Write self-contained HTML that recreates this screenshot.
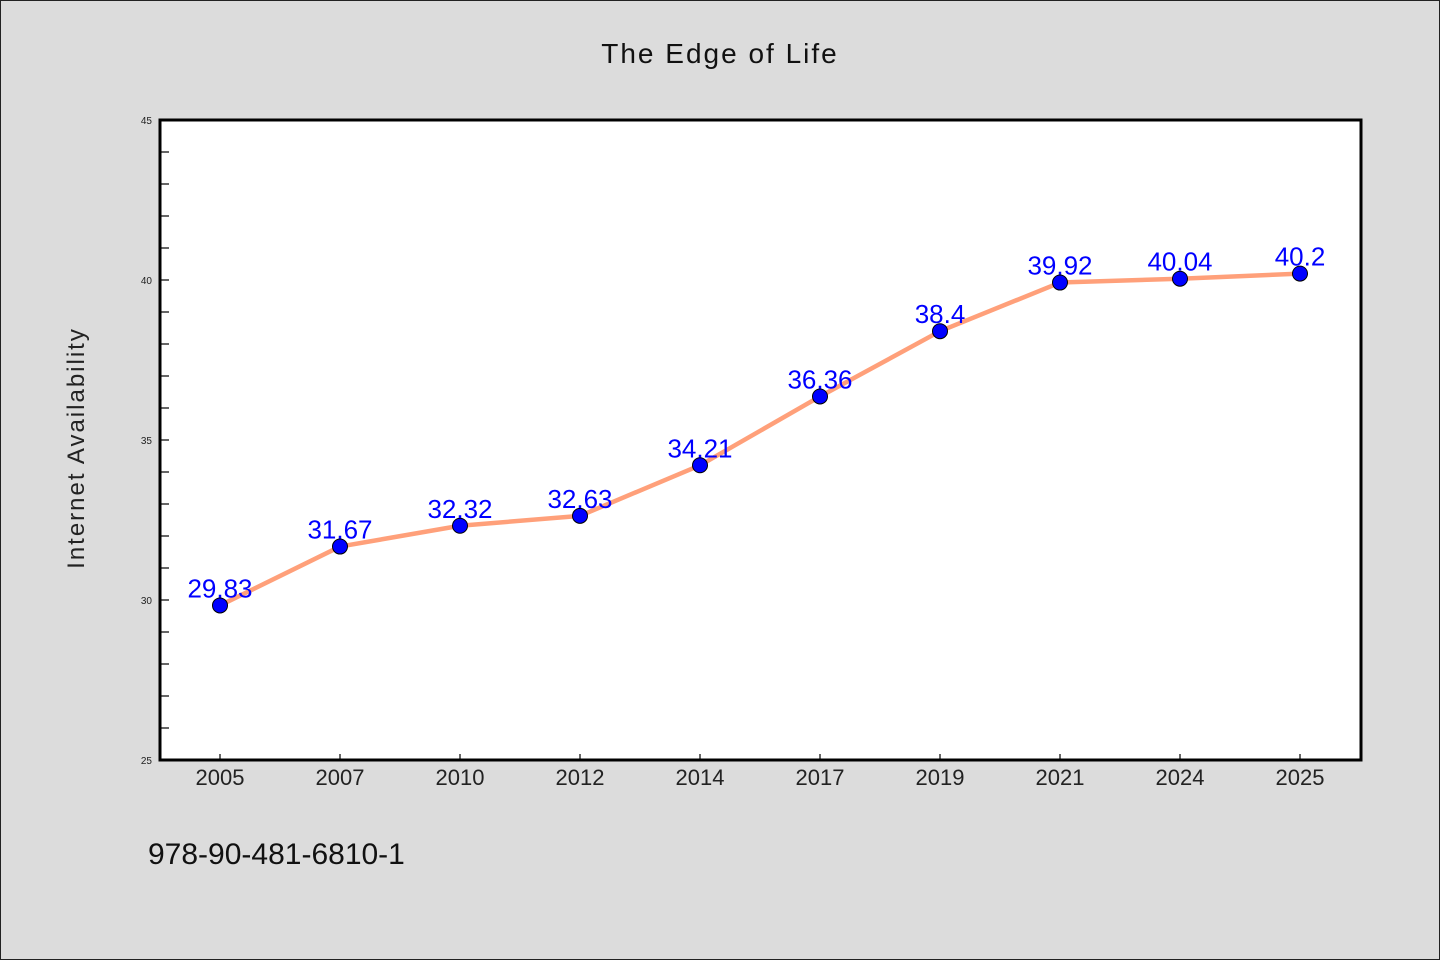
<!DOCTYPE html>
<html><head><meta charset="utf-8"><style>
html,body{margin:0;padding:0;background:#dcdcdc;}
svg{display:block;font-family:"WenQuanYi Zen Hei","Liberation Sans",sans-serif;}
</style></head><body>
<svg id="chart" width="1440" height="960">
<rect x="0.5" y="0.5" width="1439" height="959" fill="#dcdcdc" stroke="#222"/>
<text x="720" y="63" text-anchor="middle" font-size="28" fill="#111" letter-spacing="2">The Edge of Life</text>
<rect x="160" y="120" width="1200" height="640" fill="#fff"/>
<g id="axes"></g>
<g id="marks"></g>
<rect x="160" y="120" width="1201" height="640" fill="none" stroke="#000" stroke-width="3"/>
<text transform="translate(84,448) rotate(-90)" text-anchor="middle" font-size="24" fill="#222" letter-spacing="2">Internet Availability</text>
<text x="148" y="864" font-size="30" fill="#111">978-90-481-6810-1</text>
</svg>
<script>
const categories=["2005","2007","2010","2012","2014","2017","2019","2021","2024","2025"];
const values=[29.83,31.67,32.32,32.63,34.21,36.36,38.4,39.92,40.04,40.2];
const valueLabels=["29.83","31.67","32.32","32.63","34.21","36.36","38.4","39.92","40.04","40.2"];
const yTicks=[25,30,35,40,45];
const yMin=25,yMax=45;
const NS="http://www.w3.org/2000/svg";
const L=160,R=1360,T=120,B=760;
function x(i){return L+(R-L)/categories.length*(i+0.5);}
function y(v){return B-(v-yMin)/(yMax-yMin)*(B-T);}
function mk(t,a,p){const e=document.createElementNS(NS,t);for(const k in a)e.setAttribute(k,a[k]);p.appendChild(e);return e;}
const ax=document.getElementById('axes'),mg=document.getElementById('marks');
for(let v=yMin;v<=yMax;v++){
  const ln=mk('line',{x1:L,x2:L+9,y1:y(v),y2:y(v),stroke:'#000','stroke-width':1.2},ax);
  
  
}
yTicks.forEach(v=>{
  const t=mk('text',{x:152,y:y(v)+4,'text-anchor':'end','font-size':10,fill:'#222'},ax);
  t.textContent=v;
  
  
});
categories.forEach((c,i)=>{
  const ln=mk('line',{x1:x(i),x2:x(i),y1:B,y2:B-6,stroke:'#000','stroke-width':1.2},ax);
  
  
  const t=mk('text',{x:x(i),y:B+25,'text-anchor':'middle','font-size':22,fill:'#222'},ax);
  t.textContent=c;
  
  
});
const pl=mk('polyline',{points:values.map((v,i)=>x(i)+','+y(v)).join(' '),fill:'none',stroke:'#ffa07a','stroke-width':4.5,'stroke-linejoin':'round'},mg);


values.forEach((v,i)=>{
  const c=mk('circle',{cx:x(i),cy:y(v),r:7.5,fill:'#0000ff',stroke:'#000','stroke-width':1},mg);
  
  
  const t=mk('text',{x:x(i),y:y(v)-8,'text-anchor':'middle','font-size':26,fill:'#0000ff'},mg);
  t.textContent=valueLabels[i];
  
  
});
</script>
</body></html>
